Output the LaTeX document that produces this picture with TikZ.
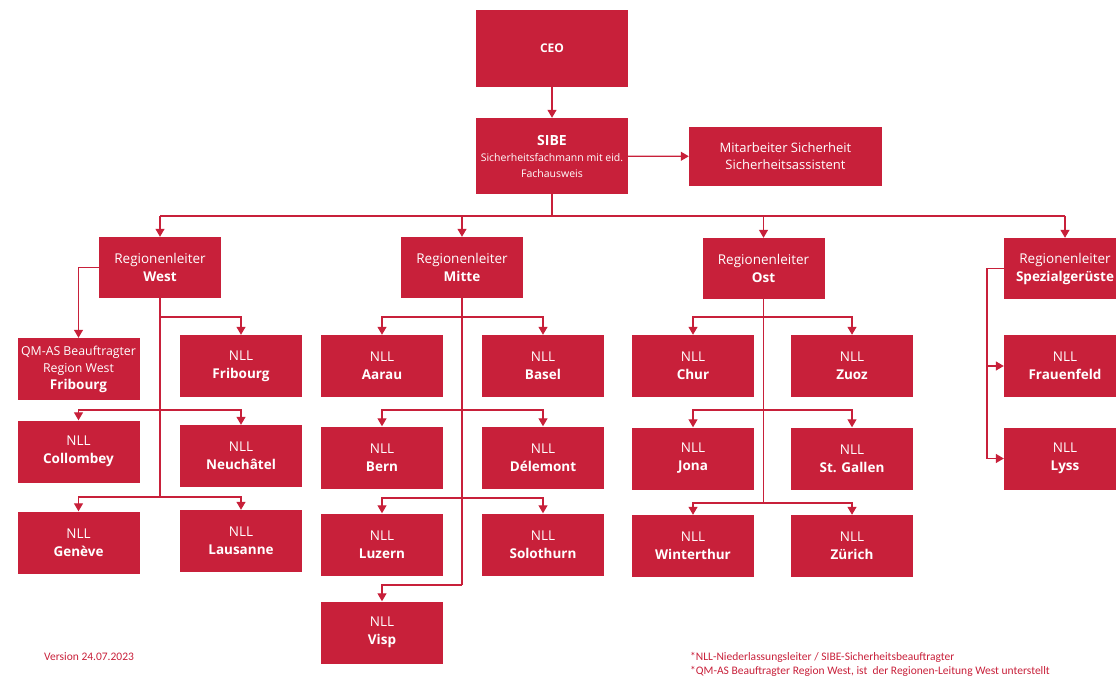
\documentclass[tikz,border=0pt]{standalone}
\usepackage{fontspec}
\setmainfont{Open Sans}
\newfontfamily\notefont{Carlito}
\usetikzlibrary{arrows.meta}
\definecolor{sred}{HTML}{C8203A}
\begin{document}
\begin{tikzpicture}[x=1pt,y=-1pt,
    box/.style={fill=sred,text=white,align=center,inner sep=0pt,
      minimum width=122pt,minimum height=62pt,font=\fontsize{13.5}{18}\selectfont},
    line/.style={draw=sred,line width=1.2pt},
    arr/.style={line,-{Triangle[length=8pt,width=9pt]}},
    note/.style={text=sred,anchor=west,inner sep=0pt,font=\notefont\fontsize{11.5}{13}\selectfont}]
        \useasboundingbox (0,0) rectangle (1116,679);
        % top
        \node[box,minimum width=152pt,minimum height=77pt,font=\fontsize{12}{14}\selectfont] (ceo) at (552,48.5) {\textbf{CEO}};
        \node[box,minimum width=152pt,minimum height=76pt,font=\fontsize{10.5}{16}\selectfont] (sibe) at (552,156) {{\fontsize{14}{18}\selectfont\textbf{SIBE}}\\Sicherheitsfachmann mit eid.\\Fachausweis};
        \node[box,minimum width=193pt,minimum height=59pt,font=\fontsize{13}{17}\selectfont] (mitarb) at (785.5,156.5) {Mitarbeiter Sicherheit\\Sicherheitsassistent};
        % regions
        \node[box,minimum height=61pt] (west) at (160,267.5) {Regionenleiter\\\textbf{West}};
        \node[box,minimum height=61pt] (mitte) at (462,267.5) {Regionenleiter\\\textbf{Mitte}};
        \node[box,minimum height=61pt] (ost) at (763.5,268.5) {Regionenleiter\\\textbf{Ost}};
        \node[box,minimum height=61pt] (spez) at (1065,268.5) {Regionenleiter\\\textbf{Spezialgerüste}};
        % west
        \node[box,font=\fontsize{12.3}{17}\selectfont] (qmas) at (78.5,369) {QM-AS Beauftragter\\Region West\\{\fontsize{13.5}{17}\selectfont\textbf{Fribourg}}};
        \node[box] (fribourg) at (241,366) {NLL\\\textbf{Fribourg}};
        \node[box] (collombey) at (78.5,451.5) {NLL\\\textbf{Collombey}};
        \node[box] (neuchatel) at (241,456) {NLL\\\textbf{Neuchâtel}};
        \node[box] (geneve) at (78.5,542.5) {NLL\\\textbf{Genève}};
        \node[box] (lausanne) at (241,541) {NLL\\\textbf{Lausanne}};
        % mitte
        \node[box] (aarau) at (382,366) {NLL\\\textbf{Aarau}};
        \node[box] (basel) at (543,366) {NLL\\\textbf{Basel}};
        \node[box] (bern) at (382,457.5) {NLL\\\textbf{Bern}};
        \node[box] (delemont) at (543,457.5) {NLL\\\textbf{Délemont}};
        \node[box] (luzern) at (382,544.5) {NLL\\\textbf{Luzern}};
        \node[box] (solothurn) at (543,544.5) {NLL\\\textbf{Solothurn}};
        \node[box] (visp) at (382,632.5) {NLL\\\textbf{Visp}};
        % ost
        \node[box] (chur) at (693,366) {NLL\\\textbf{Chur}};
        \node[box] (zuoz) at (852,366) {NLL\\\textbf{Zuoz}};
        \node[box] (jona) at (693,458.5) {NLL\\\textbf{Jona}};
        \node[box] (stgallen) at (852,458.5) {NLL\\\textbf{St. Gallen}};
        \node[box] (winterthur) at (693,546) {NLL\\\textbf{Winterthur}};
        \node[box] (zurich) at (852,546) {NLL\\\textbf{Zürich}};
        % spezial
        \node[box] (frauenfeld) at (1065,366) {NLL\\\textbf{Frauenfeld}};
        \node[box] (lyss) at (1065,458.5) {NLL\\\textbf{Lyss}};
        % levels
        \coordinate (top) at (0,216);
        \coordinate (lvla) at (0,317);
        \coordinate (lvlb) at (0,410);
        \coordinate (wlvlc) at (0,497);
        \coordinate (mlvlc) at (0,498);
        \coordinate (olvlc) at (0,503);
        \coordinate (mend) at (0,585);
        \coordinate (sx) at (987,0);
        % connectors top
        \draw[arr] (ceo) -- (sibe);
        \draw[arr] (sibe) -- (mitarb);
        \draw[line] (sibe.south) -- (sibe.south |- top);
        \draw[line] (west.north |- top) -- (spez.north |- top);
        \foreach \r in {west,mitte,ost,spez}
          \draw[arr] (\r.north |- top) -- (\r.north);
        % west
        \draw[line] (west.south) -- (west.south |- wlvlc);
        \draw[arr] (west.west) -| (qmas.north);
        \draw[arr] (west.south |- lvla) -| (fribourg.north);
        \draw[arr] (west.south |- lvlb) -| (collombey.north);
        \draw[arr] (west.south |- lvlb) -| (neuchatel.north);
        \draw[arr] (west.south |- wlvlc) -| (geneve.north);
        \draw[arr] (west.south |- wlvlc) -| (lausanne.north);
        % mitte
        \draw[line] (mitte.south) -- (mitte.south |- mend);
        \draw[arr] (mitte.south |- lvla) -| (aarau.north);
        \draw[arr] (mitte.south |- lvla) -| (basel.north);
        \draw[arr] (mitte.south |- lvlb) -| (bern.north);
        \draw[arr] (mitte.south |- lvlb) -| (delemont.north);
        \draw[arr] (mitte.south |- mlvlc) -| (luzern.north);
        \draw[arr] (mitte.south |- mlvlc) -| (solothurn.north);
        \draw[arr] (mitte.south |- mend) -| (visp.north);
        % ost
        \draw[line] (ost.south) -- (ost.south |- olvlc);
        \draw[arr] (ost.south |- lvla) -| (chur.north);
        \draw[arr] (ost.south |- lvla) -| (zuoz.north);
        \draw[arr] (ost.south |- lvlb) -| (jona.north);
        \draw[arr] (ost.south |- lvlb) -| (stgallen.north);
        \draw[arr] (ost.south |- olvlc) -| (winterthur.north);
        \draw[arr] (ost.south |- olvlc) -| (zurich.north);
        % spezial
        \draw[line] (spez.west) -| (sx |- lyss.west);
        \draw[arr] (sx |- frauenfeld.west) -- (frauenfeld.west);
        \draw[arr] (sx |- lyss.west) -- (lyss.west);
        % notes
        \node[note] (version) at (44,657) {Version 24.07.2023};
        \node[note] (notea) at (690,657) {*NLL-Niederlassungsleiter / SIBE-Sicherheitsbeauftragter};
        \node[note] (noteb) at (690,671) {*QM-AS Beauftragter Region West, ist\ \ der Regionen-Leitung West unterstellt};
\end{tikzpicture}
\end{document}
